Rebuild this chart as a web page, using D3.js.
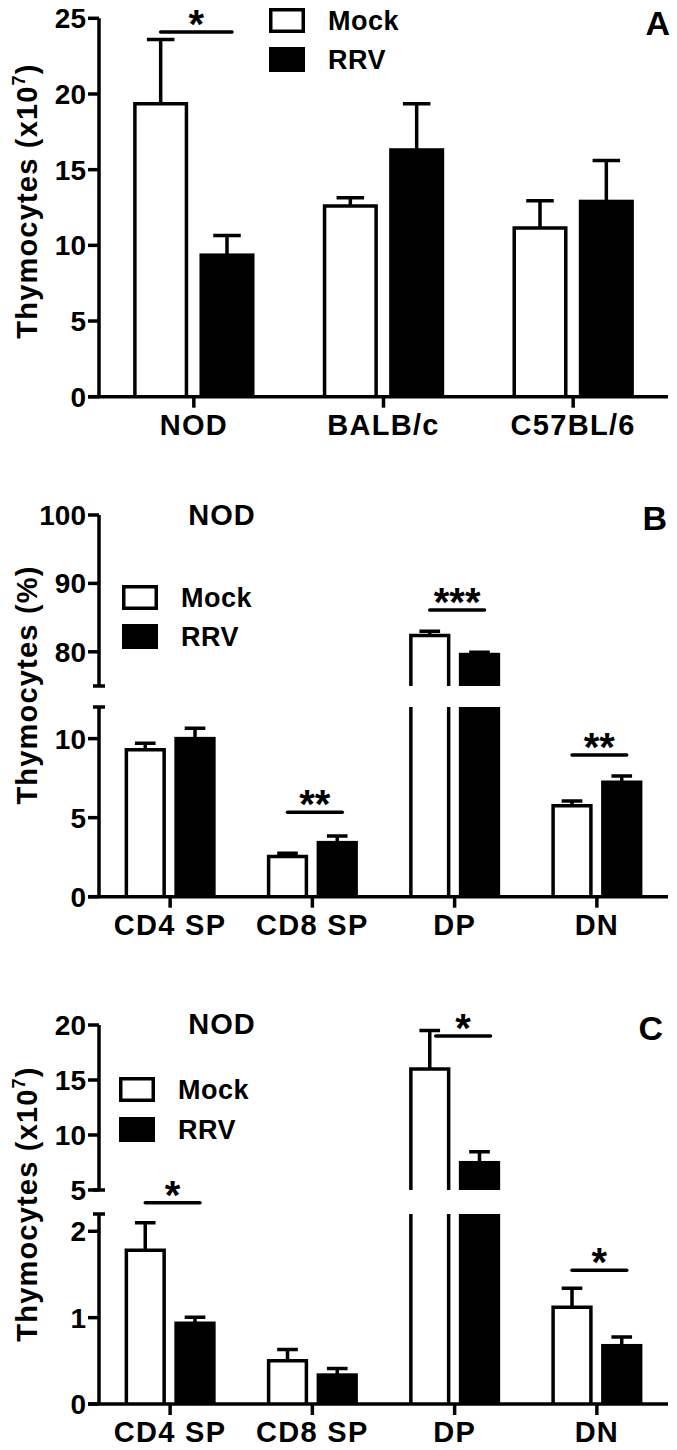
<!DOCTYPE html>
<html>
<head>
<meta charset="utf-8">
<script src="https://cdn.jsdelivr.net/npm/d3@7"></script>
<style>
  body { margin: 0; background: #fff; }
  text { font-family: "Liberation Sans", Arial, sans-serif; font-weight: bold; fill: #000; }
</style>
</head>
<body>
<svg id="main-svg"></svg>
<script>
// --- data ---
const groups = ["Mock", "RRV"];

// Panel A: total thymocytes (x10^7)
const strainCats = ["NOD", "BALB/c", "C57BL/6"];
const aMock = [19.35, 12.6, 11.15];
const aMockErr = [4.25, 0.55, 1.8];
const aRRV = [9.35, 16.3, 12.9];
const aRRVErr = [1.3, 3.05, 2.7];
const aSig = [["NOD", "*", 24.1, 0]];

// Panel B: subsets (%), NOD
const subsetCats = ["CD4 SP", "CD8 SP", "DP", "DN"];
const bMock = [9.3, 2.55, 82.4, 5.76];
const bMockErr = [0.4, 0.2, 0.6, 0.3];
const bRRV = [10.0, 3.42, 79.6, 7.24];
const bRRVErr = [0.65, 0.42, 0.35, 0.4];
const bSig = [["CD8 SP", "**", 5.34, 0], ["DP", "***", 86.1, 0], ["DN", "**", 8.97, 0]];

// Panel C: subsets (x10^7), NOD
const cMock = [1.78, 0.5, 16.0, 1.12];
const cMockErr = [0.32, 0.13, 3.5, 0.22];
const cRRV = [0.935, 0.335, 7.48, 0.675];
const cRRVErr = [0.07, 0.075, 1.0, 0.1];
const cSig = [["CD4 SP", "*", 2.33, 0], ["DP", "*", 19.0, 6], ["DN", "*", 1.55, 0]];

// --- setup ---
const width = 677, height = 1450;
const svg = d3.select("#main-svg").attr("width", width).attr("height", height);

const axisX = 99, axisRight = 668, SW = 3.5;

function rows(cats, mock, mockErr, rrv, rrvErr) {
    return cats.map((c, i) => ({
        cat: c,
        vals: [
            {g: "Mock", v: mock[i], e: mockErr[i]},
            {g: "RRV", v: rrv[i], e: rrvErr[i]}
        ]
    }));
}

function drawPanel(p) {
    const g = svg.append("g");
    // segmented y scale (broken axis)
    const segs = p.segments.map(s => ({
        scale: d3.scaleLinear().domain(s.domain).range(s.range),
        domain: s.domain, ticks: s.ticks
    }));
    const y = v => {
        let s = segs[0];
        segs.forEach(sg => { if (v >= sg.domain[0]) s = sg; });
        return s.scale(v);
    };
    const y0 = segs[0].scale(0);

    const x = d3.scaleBand().domain(p.cats).range([axisX, axisRight])
        .paddingInner(0.36).paddingOuter(0.18);
    const xi = d3.scaleBand().domain(groups).range([0, x.bandwidth()]).paddingInner(0.17);
    const bw = xi.bandwidth();

    // bars, drawn per axis segment
    p.data.forEach(row => {
        row.vals.forEach(d => {
            const x0 = x(row.cat) + xi(d.g) + SW / 2, x1 = x0 + bw - SW;
            segs.forEach(sg => {
                if (d.v <= sg.domain[0] && sg.domain[0] > 0) return;
                const top = Math.min(d.v, sg.domain[1]);
                const closed = d.v <= sg.domain[1];
                const yb = sg.scale(sg.domain[0]), yt = sg.scale(top);
                if (d.g === "RRV") {
                    g.append("rect").attr("x", x0 - SW / 2).attr("width", bw)
                        .attr("y", yt - (closed ? SW / 2 : 0))
                        .attr("height", yb - yt + (closed ? SW / 2 : 0))
                        .attr("fill", "#000");
                } else {
                    const path = closed
                        ? `M${x0},${yb}V${yt}H${x1}V${yb}`
                        : `M${x0},${yb}V${yt}M${x1},${yb}V${yt}`;
                    g.append("path").attr("d", path).attr("fill", "none")
                        .attr("stroke", "#000").attr("stroke-width", SW);
                }
            });
            // error bar (upper only)
            const cx = x(row.cat) + xi(d.g) + bw / 2;
            const capW = bw * 0.5;
            g.append("path")
                .attr("d", `M${cx},${y(d.v)}V${y(d.v + d.e)}M${cx - capW / 2},${y(d.v + d.e)}H${cx + capW / 2}`)
                .attr("stroke", "#000").attr("stroke-width", SW).attr("fill", "none");
        });
    });

    // y axis segments
    segs.forEach((sg, i) => {
        const yb = sg.scale(sg.domain[0]), yt = sg.scale(sg.domain[1]);
        g.append("line").attr("x1", axisX).attr("x2", axisX).attr("y1", yb).attr("y2", yt)
            .attr("stroke", "#000").attr("stroke-width", SW);
        if (segs.length > 1) {
            // break caps
            if (i < segs.length - 1)
                g.append("line").attr("x1", axisX - 6).attr("x2", axisX + 6).attr("y1", yt).attr("y2", yt)
                    .attr("stroke", "#000").attr("stroke-width", SW);
            if (i > 0)
                g.append("line").attr("x1", axisX - 6).attr("x2", axisX + 6).attr("y1", yb).attr("y2", yb)
                    .attr("stroke", "#000").attr("stroke-width", SW);
        }
        sg.ticks.forEach(t => {
            g.append("line").attr("x1", axisX - 11).attr("x2", axisX).attr("y1", sg.scale(t)).attr("y2", sg.scale(t))
                .attr("stroke", "#000").attr("stroke-width", SW);
            g.append("text").attr("x", 86).attr("y", sg.scale(t) + 10)
                .attr("text-anchor", "end").style("font-size", "28px").text(t);
        });
    });

    // x axis
    g.append("line").attr("x1", axisX - 11).attr("x2", axisRight).attr("y1", y0).attr("y2", y0)
        .attr("stroke", "#000").attr("stroke-width", SW);
    p.cats.forEach(c => {
        const cx = x(c) + x.bandwidth() / 2;
        g.append("line").attr("x1", cx).attr("x2", cx).attr("y1", y0).attr("y2", y0 + 11)
            .attr("stroke", "#000").attr("stroke-width", SW);
        g.append("text").attr("x", cx).attr("y", y0 + 38).attr("text-anchor", "middle")
            .style("font-size", "29px").style("letter-spacing", "1.3px").text(c);
    });

    // significance bars
    p.sig.forEach(([c, stars, lvl, dx]) => {
        const xa = x(c) + xi("Mock") + bw / 2 + dx;
        const xb = x(c) + xi("RRV") + bw / 2 + 5 + dx;
        const ly = y(lvl);
        g.append("line").attr("x1", xa).attr("x2", xb).attr("y1", ly).attr("y2", ly)
            .attr("stroke", "#000").attr("stroke-width", SW).attr("stroke-linecap", "round");
        g.append("text").attr("x", (xa + xb) / 2).attr("y", ly + 6).attr("text-anchor", "middle")
            .style("font-size", "40px").text(stars);
    });

    // y label
    const yl = g.append("text").attr("transform", `translate(${p.ylab.x},${p.ylab.y}) rotate(-90)`)
        .attr("text-anchor", "middle").style("font-size", "29px").style("letter-spacing", "1.2px");
    yl.append("tspan").text(p.ylab.text);
    if (p.ylab.sup) {
        yl.append("tspan").attr("dy", -12).style("font-size", "18px").text(p.ylab.sup);
        yl.append("tspan").attr("dy", 12).text(")");
    }

    // legend
    const L = p.legend;
    groups.forEach((grp, i) => {
        const by = L.y + i * L.dy;
        g.append("rect").attr("x", L.x + SW / 2).attr("y", by + SW / 2)
            .attr("width", 36 - SW).attr("height", 25 - SW)
            .attr("fill", grp === "Mock" ? "#fff" : "#000").attr("stroke", "#000").attr("stroke-width", SW);
        g.append("text").attr("x", L.x + 59).attr("y", by + 22)
            .style("font-size", "27px").style("letter-spacing", "0.5px").text(grp);
    });

    // panel letter and title
    g.append("text").attr("x", p.letter.x).attr("y", p.letter.y).attr("text-anchor", "end")
        .style("font-size", "34px").text(p.letter.t);
    if (p.title)
        g.append("text").attr("x", 222).attr("y", p.title.y).attr("text-anchor", "middle")
            .style("font-size", "29px").style("letter-spacing", "1px").text(p.title.t);
}

drawPanel({
    cats: strainCats,
    data: rows(strainCats, aMock, aMockErr, aRRV, aRRVErr),
    segments: [{domain: [0, 25], range: [396.7, 18.3], ticks: [0, 5, 10, 15, 20, 25]}],
    sig: aSig,
    ylab: {x: 37, y: 201, text: "Thymocytes (x10", sup: "7"},
    legend: {x: 269, y: 8, dy: 39},
    letter: {x: 670, y: 35, t: "A"}
});

drawPanel({
    cats: subsetCats,
    data: rows(subsetCats, bMock, bMockErr, bRRV, bRRVErr),
    segments: [
        {domain: [0, 12], range: [896.7, 707], ticks: [0, 5, 10]},
        {domain: [75, 100], range: [686, 515], ticks: [80, 90, 100]}
    ],
    sig: bSig,
    ylab: {x: 37, y: 685, text: "Thymocytes (%)"},
    legend: {x: 122, y: 585, dy: 39},
    letter: {x: 667, y: 530, t: "B"},
    title: {y: 525, t: "NOD"}
});

drawPanel({
    cats: subsetCats,
    data: rows(subsetCats, cMock, cMockErr, cRRV, cRRVErr),
    segments: [
        {domain: [0, 2.2], range: [1404, 1214], ticks: [0, 1, 2]},
        {domain: [5, 20], range: [1190, 1025], ticks: [5, 10, 15, 20]}
    ],
    sig: cSig,
    ylab: {x: 37, y: 1204, text: "Thymocytes (x10", sup: "7"},
    legend: {x: 119, y: 1077, dy: 40},
    letter: {x: 663, y: 1040, t: "C"},
    title: {y: 1034, t: "NOD"}
});
</script>
</body>
</html>
